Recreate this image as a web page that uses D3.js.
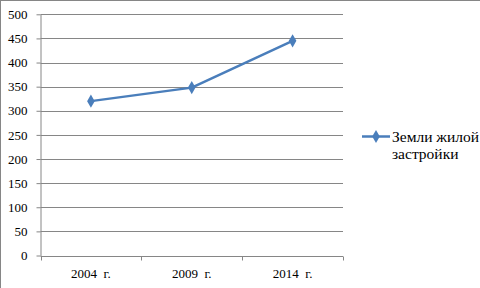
<!DOCTYPE html>
<html>
<head>
<meta charset="utf-8">
<script src="https://cdn.jsdelivr.net/npm/d3@7"></script>
<style>
  body { margin: 0; background: #fff; }
</style>
</head>
<body>
<svg id="chart"></svg>
<script>
// data
const years = ['2004  г.', '2009  г.', '2014  г.'];
const values = [320, 348, 445];
const yTicks = [0, 50, 100, 150, 200, 250, 300, 350, 400, 450, 500];
const seriesName = ['Земли жилой', 'застройки'];

const width = 480, height = 288;
const margin = {left: 40.5, right: 137, top: 14.3, bottom: 32.5};
const lineColor = '#4a7ebb';
const gridColor = '#868686';
const FONT = '"Liberation Serif", "Times New Roman", serif';

const svg = d3.select('#chart')
    .attr('width', width)
    .attr('height', height);

// outer chart border (only top/left visible in the frame)
svg.append('rect')
    .attr('x', 0.5).attr('y', 0.5)
    .attr('width', width + 20).attr('height', height + 20)
    .attr('fill', 'none')
    .attr('stroke', gridColor);

const innerW = width - margin.left - margin.right;
const innerH = height - margin.top - margin.bottom;

const x = d3.scaleBand()
    .domain(years)
    .range([margin.left, margin.left + innerW]);

const y = d3.scaleLinear()
    .domain([0, 500])
    .range([margin.top + innerH, margin.top]);

// horizontal gridlines
svg.append('g')
    .selectAll('line')
    .data(yTicks.filter(d => d > 0))
    .join('line')
    .attr('x1', margin.left)
    .attr('x2', margin.left + innerW)
    .attr('y1', d => Math.round(y(d)) + 0.5)
    .attr('y2', d => Math.round(y(d)) + 0.5)
    .attr('stroke', gridColor);

// y axis
const yAxis = d3.axisLeft(y)
    .tickValues(yTicks)
    .tickSize(4)
    .tickPadding(9)
    .tickSizeOuter(0);

svg.append('g')
    .attr('transform', `translate(${margin.left},0)`)
    .call(yAxis)
    .call(g => g.select('.domain').attr('stroke', gridColor))
    .call(g => g.selectAll('.tick line').attr('stroke', gridColor))
    .call(g => g.selectAll('.tick text')
        .style('font-family', FONT)
        .style('font-size', '13px')
        .attr('fill', '#000'));

// x axis with ticks between categories
const xAxisG = svg.append('g')
    .attr('transform', `translate(0,${Math.round(y(0)) + 0.5})`);

xAxisG.append('line')
    .attr('x1', margin.left)
    .attr('x2', margin.left + innerW)
    .attr('stroke', gridColor);

const bounds = years.map(d => x(d)).concat([x(years[years.length - 1]) + x.bandwidth()]);
xAxisG.selectAll('.xtick')
    .data(bounds)
    .join('line')
    .attr('class', 'xtick')
    .attr('x1', d => Math.round(d) + 0.5)
    .attr('x2', d => Math.round(d) + 0.5)
    .attr('y1', 0)
    .attr('y2', 4)
    .attr('stroke', gridColor);

xAxisG.selectAll('.xlabel')
    .data(years)
    .join('text')
    .attr('class', 'xlabel')
    .attr('x', d => x(d) + x.bandwidth() / 2)
    .attr('y', 21)
    .attr('text-anchor', 'middle')
    .style('font-family', FONT)
    .style('font-size', '13px')
    .style('white-space', 'pre')
    .text(d => d);

// series line
const cx = (d, i) => x(years[i]) + x.bandwidth() / 2;
const line = d3.line()
    .x(cx)
    .y(d => y(d));

svg.append('path')
    .datum(values)
    .attr('d', line)
    .attr('fill', 'none')
    .attr('stroke', lineColor)
    .attr('stroke-width', 2.5)
    .attr('stroke-linejoin', 'round');

const diamond = d3.symbol().type(d3.symbolDiamond).size(50);

svg.append('g')
    .selectAll('path')
    .data(values)
    .join('path')
    .attr('d', diamond)
    .attr('transform', (d, i) => `translate(${cx(d, i)},${y(d)})`)
    .attr('fill', lineColor);

// legend
const legend = svg.append('g')
    .attr('transform', 'translate(362,136.5)');

legend.append('line')
    .attr('x1', 0).attr('x2', 28)
    .attr('stroke', lineColor)
    .attr('stroke-width', 2.5);

legend.append('path')
    .attr('d', diamond)
    .attr('transform', 'translate(14,0)')
    .attr('fill', lineColor);

legend.selectAll('text')
    .data(seriesName)
    .join('text')
    .attr('x', 30)
    .attr('y', (d, i) => 5 + i * 17)
    .style('font-family', FONT)
    .style('font-size', '15.5px')
    .text(d => d);
</script>
</body>
</html>
